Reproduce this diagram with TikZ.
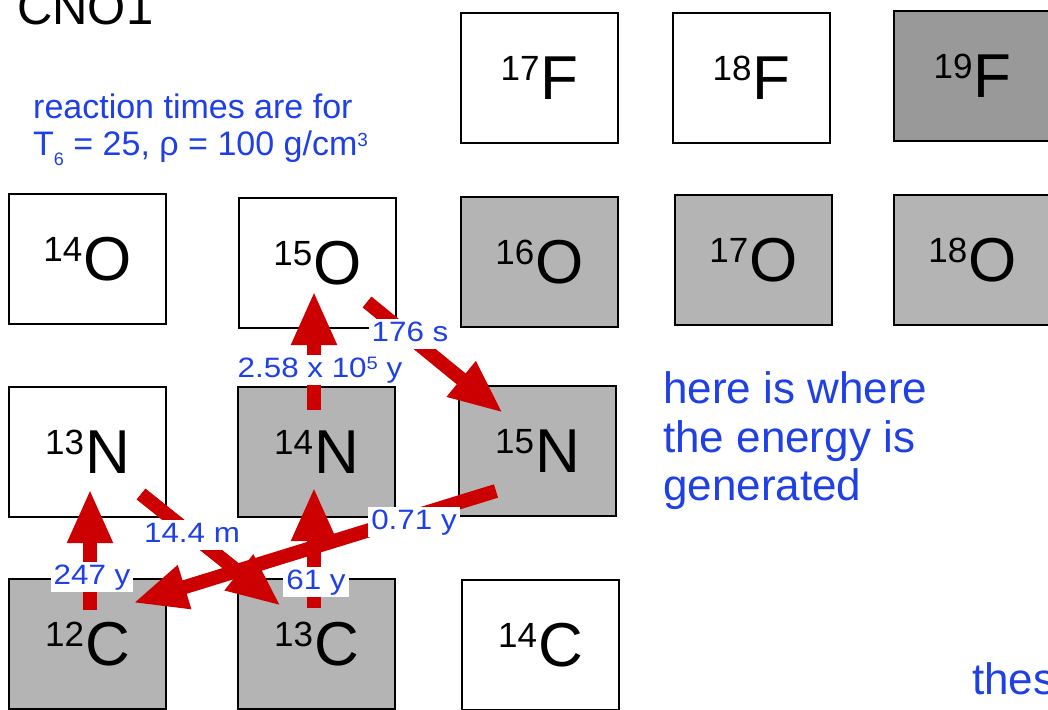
\documentclass[tikz,border=0pt]{standalone}
\usepackage{fontspec}
\setmainfont{Liberation Sans}
\newfontfamily\lblfont[FakeStretch=1.12]{Liberation Sans}
\usetikzlibrary{arrows.meta}
\definecolor{arrred}{RGB}{204,0,0}
\definecolor{txtblue}{RGB}{30,64,230}
\definecolor{isogray}{RGB}{180,180,180}
\definecolor{isodark}{RGB}{153,153,153}
\newcommand\fsz[1]{\fontsize{#1}{#1}\selectfont}
\newcommand\isot[2]{{\fsz{35}\raisebox{19pt}{#1}}\kern1pt{\fsz{62}#2}}
\begin{document}
\begin{tikzpicture}[x=1pt,y=-1pt,
  iso/.style={draw=black, line width=2.8pt, anchor=north west, minimum width=157pt,
    minimum height=130pt, inner sep=0pt, outer sep=0pt},
  stable/.style={iso, fill=isogray},
  unstable/.style={iso, fill=white},
  darkiso/.style={iso, fill=isodark},
  rx/.style={draw=arrred, line width=14pt, -{Triangle[length=54pt,width=42pt]}},
  lbl/.style={fill=white, text=txtblue, font=\lblfont\fsz{28}, inner xsep=3pt,
    inner ysep=2pt, text height=20pt, text depth=6pt},
  note/.style={text=txtblue, anchor=base west, inner sep=0pt, align=left}]
\clip (0,0) rectangle (1048,709);
\fill[white] (0,0) rectangle (1048,709);

% isotope boxes
\node[unstable] (F17) at (461,13) {\isot{17}{F}};
\node[unstable] (F18) at (673,13) {\isot{18}{F}};
\node[darkiso]  (F19) at (894,11) {\isot{19}{F}};
\node[unstable] (O14) at (9,194)   {\isot{14}{O}};
\node[unstable] (O15) at (239,198) {\isot{15}{O}};
\node[stable]   (O16) at (461,197) {\isot{16}{O}};
\node[stable]   (O17) at (675,195) {\isot{17}{O}};
\node[stable]   (O18) at (894,195) {\isot{18}{O}};
\node[unstable] (N13) at (9,387)   {\isot{13}{N}};
\node[stable]   (N14) at (238,387) {\isot{14}{N}};
\node[stable]   (N15) at (459,386) {\isot{15}{N}};
\node[stable]   (C12) at (9,579)   {\isot{12}{C}};
\node[stable]   (C13) at (238,579) {\isot{13}{C}};
\node[unstable] (C14) at (462,580) {\isot{14}{C}};

% texts
\node[anchor=base west, inner sep=0pt, font=\fsz{49}] (title) at (17,25) {CNO1};
\node[note, font=\fsz{34}] (cond1) at (33,118) {reaction times are for};
\node[note, font=\fsz{34}] (cond2) at (33,155)
  {T\raisebox{-10pt}{\fsz{18}6} = 25, ρ = 100 g/cm\raisebox{9pt}{\fsz{19}3}};
\node[note, font=\fsz{44}] (e1) at (663,403) {here is where};
\node[note, font=\fsz{44}] (e2) at (663,452) {the energy is};
\node[note, font=\fsz{44}] (e3) at (663,500) {generated};
\node[note, font=\fsz{44}] (thes) at (972,694) {thes};

% arrow end points
\coordinate (a1s) at (90,610);  \coordinate (a1e) at (90,489);
\coordinate (a2s) at (141,494); \coordinate (a2e) at (281,606);
\coordinate (a3s) at (314,608); \coordinate (a3e) at (314,487);
\coordinate (a4s) at (314,410); \coordinate (a4e) at (314,291);
\coordinate (a5s) at (367,302); \coordinate (a5e) at (503,413);
\coordinate (a6s) at (496,491); \coordinate (a6e) at (133,603);

\draw[rx] (a1s) -- (a1e);
\draw[rx] (a2s) -- (a2e);
\draw[rx] (a3s) -- (a3e);
\draw[rx] (a4s) -- (a4e);
\draw[rx] (a5s) -- (a5e);
\draw[rx] (a6s) -- (a6e);

% labels
\node[lbl] (l1) at (92,577) {247 y};
\node[lbl] (l2) at (192,535) {14.4 m};
\node[lbl] (l3) at (316,582) {61 y};
\node[lbl] (l4) at (414,522) {0.71 y};
\node[lbl] (l5) at (320,370) {2.58 x 10\raisebox{8pt}{\fsz{18}5} y};
\node[lbl] (l6) at (410,334) {176 s};
\end{tikzpicture}
\end{document}
